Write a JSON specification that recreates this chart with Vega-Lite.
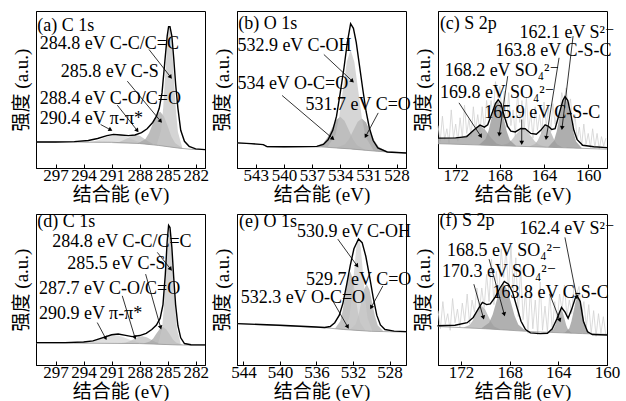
{
"$schema":"https://vega.github.io/schema/vega-lite/v6.json",
"autosize":{"type":"pad"},
"padding":{"left":11,"top":10,"right":0,"bottom":0},
"background":"white",
"columns":3,
"spacing":{"row":46,"column":32},
"bounds":"flush",
"resolve":{"scale":{"x":"independent","y":"independent","color":"independent"}},
"config":{
 "view":{"stroke":"black","strokeWidth":1},
 "axis":{"grid":false,"domainColor":"black","tickColor":"black","labelColor":"black","titleColor":"black","labelFont":"Liberation Serif, DejaVu Serif, Noto Sans CJK SC","titleFont":"Liberation Serif, DejaVu Serif, Noto Sans CJK SC","labelFontSize":17,"titleFontSize":19,"titleFontWeight":"normal","labelOverlap":false,"labelFlush":false,"labelBound":false},
 "axisX":{"tickSize":-4,"labelPadding":3,"titlePadding":2},
 "axisY":{"labels":false,"ticks":false,"titlePadding":5},
 "text":{"font":"Liberation Serif, DejaVu Serif, Noto Sans CJK SC","fontSize":18,"align":"left","baseline":"middle","color":"black"}
},
"datasets":{
"curves":[
{"p":"a","s":"e","x":299.1,"y":16.6},{"p":"a","s":"e","x":297,"y":16.6},{"p":"a","s":"e","x":295,"y":16.8},{"p":"a","s":"e","x":293.5,"y":17.5},{"p":"a","s":"e","x":292.5,"y":18.8},{"p":"a","s":"e","x":291.5,"y":20.6},{"p":"a","s":"e","x":290.8,"y":21.4},{"p":"a","s":"e","x":290,"y":21.0},{"p":"a","s":"e","x":289.2,"y":20.6},{"p":"a","s":"e","x":288.5,"y":21.0},{"p":"a","s":"e","x":287.8,"y":22.5},{"p":"a","s":"e","x":287.2,"y":25},{"p":"a","s":"e","x":286.6,"y":29},{"p":"a","s":"e","x":286.2,"y":33},{"p":"a","s":"e","x":285.9,"y":38},{"p":"a","s":"e","x":285.6,"y":48},{"p":"a","s":"e","x":285.3,"y":68},{"p":"a","s":"e","x":285.05,"y":84},{"p":"a","s":"e","x":284.9,"y":90},{"p":"a","s":"e","x":284.75,"y":90},{"p":"a","s":"e","x":284.55,"y":84},{"p":"a","s":"e","x":284.35,"y":70},{"p":"a","s":"e","x":284.14,"y":53},{"p":"a","s":"e","x":283.9,"y":38},{"p":"a","s":"e","x":283.6,"y":24},{"p":"a","s":"e","x":283.2,"y":17},{"p":"a","s":"e","x":282.7,"y":13.8},{"p":"a","s":"e","x":282.0,"y":12.2},{"p":"a","s":"e","x":281.0,"y":11.7},
{"p":"a","s":"b","x":299.1,"y":16.6},{"p":"a","s":"b","x":291,"y":16.4},{"p":"a","s":"b","x":288,"y":15.6},{"p":"a","s":"b","x":286,"y":14.4},{"p":"a","s":"b","x":284,"y":12.8},{"p":"a","s":"b","x":282.5,"y":11.9},{"p":"a","s":"b","x":281,"y":11.7},
{"p":"b","s":"e","x":545,"y":16.0},{"p":"b","s":"e","x":543.5,"y":15.5},{"p":"b","s":"e","x":542.2,"y":14.9},{"p":"b","s":"e","x":541.8,"y":13.6},{"p":"b","s":"e","x":540,"y":13.5},{"p":"b","s":"e","x":538,"y":13.6},{"p":"b","s":"e","x":536.5,"y":13.8},{"p":"b","s":"e","x":535.8,"y":15},{"p":"b","s":"e","x":535.3,"y":18},{"p":"b","s":"e","x":534.8,"y":24},{"p":"b","s":"e","x":534.4,"y":33},{"p":"b","s":"e","x":534.0,"y":48},{"p":"b","s":"e","x":533.6,"y":64},{"p":"b","s":"e","x":533.25,"y":80},{"p":"b","s":"e","x":532.9,"y":91.9},{"p":"b","s":"e","x":532.6,"y":89},{"p":"b","s":"e","x":532.3,"y":80},{"p":"b","s":"e","x":531.95,"y":65},{"p":"b","s":"e","x":531.6,"y":50},{"p":"b","s":"e","x":531.25,"y":36},{"p":"b","s":"e","x":530.9,"y":25.5},{"p":"b","s":"e","x":530.5,"y":17.5},{"p":"b","s":"e","x":530.0,"y":12.8},{"p":"b","s":"e","x":529.0,"y":10.2},{"p":"b","s":"e","x":527,"y":9.6},
{"p":"b","s":"b","x":545,"y":16.0},{"p":"b","s":"b","x":542.2,"y":14.9},{"p":"b","s":"b","x":541.8,"y":13.4},{"p":"b","s":"b","x":536,"y":13.4},{"p":"b","s":"b","x":533,"y":12.2},{"p":"b","s":"b","x":530,"y":10.6},{"p":"b","s":"b","x":527,"y":9.6},
{"p":"c","s":"e","x":173.6,"y":19.0},{"p":"c","s":"e","x":172,"y":19.2},{"p":"c","s":"e","x":171,"y":20.0},{"p":"c","s":"e","x":170.3,"y":24.5},{"p":"c","s":"e","x":169.8,"y":27.3},{"p":"c","s":"e","x":169.4,"y":26.0},{"p":"c","s":"e","x":169.1,"y":27.5},{"p":"c","s":"e","x":168.7,"y":35},{"p":"c","s":"e","x":168.4,"y":41},{"p":"c","s":"e","x":168.15,"y":43.5},{"p":"c","s":"e","x":167.9,"y":41},{"p":"c","s":"e","x":167.6,"y":33},{"p":"c","s":"e","x":167.3,"y":26.5},{"p":"c","s":"e","x":167.0,"y":23.5},{"p":"c","s":"e","x":166.6,"y":23.0},{"p":"c","s":"e","x":166.1,"y":25.2},{"p":"c","s":"e","x":165.7,"y":25.0},{"p":"c","s":"e","x":165.2,"y":22},{"p":"c","s":"e","x":164.7,"y":21.5},{"p":"c","s":"e","x":164.3,"y":24.0},{"p":"c","s":"e","x":163.9,"y":27.5},{"p":"c","s":"e","x":163.6,"y":26.5},{"p":"c","s":"e","x":163.3,"y":24.5},{"p":"c","s":"e","x":163.0,"y":25},{"p":"c","s":"e","x":162.6,"y":35},{"p":"c","s":"e","x":162.3,"y":43},{"p":"c","s":"e","x":162.1,"y":45.5},{"p":"c","s":"e","x":161.85,"y":43},{"p":"c","s":"e","x":161.6,"y":35},{"p":"c","s":"e","x":161.3,"y":24},{"p":"c","s":"e","x":161.0,"y":18},{"p":"c","s":"e","x":160.5,"y":14.5},{"p":"c","s":"e","x":159.5,"y":13.5},{"p":"c","s":"e","x":158.3,"y":13.0},
{"p":"c","s":"b","x":173.6,"y":15.5},{"p":"c","s":"b","x":158.3,"y":12.0},
{"p":"d","s":"e","x":299.1,"y":14.8},{"p":"d","s":"e","x":296,"y":14.8},{"p":"d","s":"e","x":294,"y":15.2},{"p":"d","s":"e","x":293,"y":16},{"p":"d","s":"e","x":292,"y":18},{"p":"d","s":"e","x":291,"y":20.0},{"p":"d","s":"e","x":290.3,"y":20.5},{"p":"d","s":"e","x":289.5,"y":19.6},{"p":"d","s":"e","x":288.8,"y":18.8},{"p":"d","s":"e","x":288,"y":19.5},{"p":"d","s":"e","x":287.3,"y":21},{"p":"d","s":"e","x":286.7,"y":23.5},{"p":"d","s":"e","x":286.2,"y":26.5},{"p":"d","s":"e","x":285.8,"y":31},{"p":"d","s":"e","x":285.5,"y":40},{"p":"d","s":"e","x":285.25,"y":60},{"p":"d","s":"e","x":285.05,"y":82},{"p":"d","s":"e","x":284.9,"y":92.5},{"p":"d","s":"e","x":284.75,"y":91},{"p":"d","s":"e","x":284.55,"y":78},{"p":"d","s":"e","x":284.35,"y":58},{"p":"d","s":"e","x":284.15,"y":40},{"p":"d","s":"e","x":283.9,"y":26},{"p":"d","s":"e","x":283.6,"y":18},{"p":"d","s":"e","x":283.2,"y":14.2},{"p":"d","s":"e","x":282.5,"y":13.4},{"p":"d","s":"e","x":281,"y":13.3},
{"p":"d","s":"b","x":299.1,"y":14.6},{"p":"d","s":"b","x":288,"y":14.2},{"p":"d","s":"b","x":284,"y":13.3},{"p":"d","s":"b","x":281,"y":13.0},
{"p":"e","s":"e","x":544.66,"y":27.4},{"p":"e","s":"e","x":540,"y":26.3},{"p":"e","s":"e","x":536,"y":25.2},{"p":"e","s":"e","x":535.1,"y":24.8},{"p":"e","s":"e","x":534.5,"y":25.5},{"p":"e","s":"e","x":534.0,"y":28},{"p":"e","s":"e","x":533.5,"y":33},{"p":"e","s":"e","x":533.1,"y":41},{"p":"e","s":"e","x":532.7,"y":53},{"p":"e","s":"e","x":532.3,"y":66},{"p":"e","s":"e","x":531.9,"y":77},{"p":"e","s":"e","x":531.4,"y":83.4},{"p":"e","s":"e","x":531.0,"y":81},{"p":"e","s":"e","x":530.6,"y":72},{"p":"e","s":"e","x":530.2,"y":59},{"p":"e","s":"e","x":529.8,"y":45},{"p":"e","s":"e","x":529.4,"y":33},{"p":"e","s":"e","x":529.0,"y":26.5},{"p":"e","s":"e","x":528.5,"y":23.5},{"p":"e","s":"e","x":527.5,"y":22.4},{"p":"e","s":"e","x":526.17,"y":22.1},
{"p":"e","s":"b","x":544.66,"y":27.4},{"p":"e","s":"b","x":535,"y":24.6},{"p":"e","s":"b","x":533,"y":23.5},{"p":"e","s":"b","x":530,"y":22.3},{"p":"e","s":"b","x":526.17,"y":21.8},
{"p":"f","s":"e","x":173.94,"y":26.0},{"p":"f","s":"e","x":172.5,"y":26.3},{"p":"f","s":"e","x":171.5,"y":28},{"p":"f","s":"e","x":171.0,"y":31.5},{"p":"f","s":"e","x":170.6,"y":37},{"p":"f","s":"e","x":170.25,"y":41.4},{"p":"f","s":"e","x":169.9,"y":40.0},{"p":"f","s":"e","x":169.6,"y":40.5},{"p":"f","s":"e","x":169.2,"y":45},{"p":"f","s":"e","x":168.8,"y":51},{"p":"f","s":"e","x":168.45,"y":55.3},{"p":"f","s":"e","x":168.1,"y":53.5},{"p":"f","s":"e","x":167.76,"y":48},{"p":"f","s":"e","x":167.4,"y":38},{"p":"f","s":"e","x":167.07,"y":29},{"p":"f","s":"e","x":166.7,"y":23.5},{"p":"f","s":"e","x":166.3,"y":21.3},{"p":"f","s":"e","x":165.5,"y":20.8},{"p":"f","s":"e","x":164.9,"y":21.0},{"p":"f","s":"e","x":164.5,"y":24},{"p":"f","s":"e","x":164.1,"y":31},{"p":"f","s":"e","x":163.74,"y":38.1},{"p":"f","s":"e","x":163.45,"y":35},{"p":"f","s":"e","x":163.2,"y":31.0},{"p":"f","s":"e","x":162.9,"y":37},{"p":"f","s":"e","x":162.6,"y":44.5},{"p":"f","s":"e","x":162.45,"y":45.8},{"p":"f","s":"e","x":162.2,"y":42},{"p":"f","s":"e","x":161.94,"y":29},{"p":"f","s":"e","x":161.6,"y":22},{"p":"f","s":"e","x":161.2,"y":20.2},{"p":"f","s":"e","x":160.0,"y":19.9},
{"p":"f","s":"b","x":173.94,"y":25.5},{"p":"f","s":"b","x":170,"y":24.0},{"p":"f","s":"b","x":166,"y":22.0},{"p":"f","s":"b","x":162,"y":20.8},{"p":"f","s":"b","x":160,"y":20.3}
],
"raw":[
{"p":"c","x":173.6,"y":27},{"p":"c","x":173.4,"y":17},{"p":"c","x":173.2,"y":33},{"p":"c","x":173.0,"y":18},{"p":"c","x":172.8,"y":25},{"p":"c","x":172.6,"y":16},{"p":"c","x":172.4,"y":37},{"p":"c","x":172.2,"y":19},{"p":"c","x":172.0,"y":28},{"p":"c","x":171.8,"y":17},{"p":"c","x":171.6,"y":32},{"p":"c","x":171.4,"y":19},{"p":"c","x":171.2,"y":40},{"p":"c","x":171.0,"y":22},{"p":"c","x":170.8,"y":31},{"p":"c","x":170.6,"y":20},{"p":"c","x":170.4,"y":39},{"p":"c","x":170.2,"y":24},{"p":"c","x":170.0,"y":34},{"p":"c","x":169.8,"y":23},{"p":"c","x":169.6,"y":39},{"p":"c","x":169.4,"y":24},{"p":"c","x":169.2,"y":43},{"p":"c","x":169.0,"y":31},{"p":"c","x":168.8,"y":43},{"p":"c","x":168.6,"y":33},{"p":"c","x":168.4,"y":55},{"p":"c","x":168.2,"y":45},{"p":"c","x":168.0,"y":52},{"p":"c","x":167.8,"y":34},{"p":"c","x":167.6,"y":49},{"p":"c","x":167.4,"y":26},{"p":"c","x":167.2,"y":48},{"p":"c","x":167.0,"y":27},{"p":"c","x":166.8,"y":37},{"p":"c","x":166.6,"y":20},{"p":"c","x":166.4,"y":49},{"p":"c","x":166.2,"y":29},{"p":"c","x":166.0,"y":43},{"p":"c","x":165.8,"y":23},{"p":"c","x":165.6,"y":45},{"p":"c","x":165.4,"y":24},{"p":"c","x":165.2,"y":35},{"p":"c","x":165.0,"y":19},{"p":"c","x":164.8,"y":39},{"p":"c","x":164.6,"y":24},{"p":"c","x":164.4,"y":34},{"p":"c","x":164.2,"y":22},{"p":"c","x":164.0,"y":42},{"p":"c","x":163.8,"y":27},{"p":"c","x":163.6,"y":39},{"p":"c","x":163.4,"y":23},{"p":"c","x":163.2,"y":41},{"p":"c","x":163.0,"y":28},{"p":"c","x":162.8,"y":38},{"p":"c","x":162.6,"y":32},{"p":"c","x":162.4,"y":48},{"p":"c","x":162.2,"y":42},{"p":"c","x":162.0,"y":51},{"p":"c","x":161.8,"y":38},{"p":"c","x":161.6,"y":44},{"p":"c","x":161.4,"y":24},{"p":"c","x":161.2,"y":34},{"p":"c","x":161.0,"y":18},{"p":"c","x":160.8,"y":26},{"p":"c","x":160.6,"y":14},{"p":"c","x":160.4,"y":28},{"p":"c","x":160.2,"y":15},{"p":"c","x":160.0,"y":22},{"p":"c","x":159.8,"y":13},{"p":"c","x":159.6,"y":25},{"p":"c","x":159.4,"y":13},{"p":"c","x":159.2,"y":22},{"p":"c","x":159.0,"y":12},{"p":"c","x":158.8,"y":20},{"p":"c","x":158.6,"y":14},{"p":"c","x":158.4,"y":19},
{"p":"f","x":173.9,"y":36},{"p":"f","x":173.7,"y":24},{"p":"f","x":173.5,"y":42},{"p":"f","x":173.3,"y":27},{"p":"f","x":173.1,"y":34},{"p":"f","x":172.9,"y":23},{"p":"f","x":172.7,"y":44},{"p":"f","x":172.5,"y":28},{"p":"f","x":172.3,"y":37},{"p":"f","x":172.1,"y":25},{"p":"f","x":171.9,"y":41},{"p":"f","x":171.7,"y":29},{"p":"f","x":171.5,"y":47},{"p":"f","x":171.3,"y":27},{"p":"f","x":171.1,"y":43},{"p":"f","x":170.9,"y":35},{"p":"f","x":170.7,"y":51},{"p":"f","x":170.5,"y":35},{"p":"f","x":170.3,"y":51},{"p":"f","x":170.1,"y":38},{"p":"f","x":169.9,"y":60},{"p":"f","x":169.7,"y":42},{"p":"f","x":169.5,"y":70},{"p":"f","x":169.3,"y":40},{"p":"f","x":169.1,"y":62},{"p":"f","x":168.9,"y":46},{"p":"f","x":168.7,"y":77},{"p":"f","x":168.5,"y":58},{"p":"f","x":168.3,"y":77},{"p":"f","x":168.1,"y":49},{"p":"f","x":167.9,"y":79},{"p":"f","x":167.7,"y":48},{"p":"f","x":167.5,"y":71},{"p":"f","x":167.3,"y":32},{"p":"f","x":167.1,"y":65},{"p":"f","x":166.9,"y":30},{"p":"f","x":166.7,"y":49},{"p":"f","x":166.5,"y":21},{"p":"f","x":166.3,"y":51},{"p":"f","x":166.1,"y":24},{"p":"f","x":165.9,"y":43},{"p":"f","x":165.7,"y":20},{"p":"f","x":165.5,"y":55},{"p":"f","x":165.3,"y":23},{"p":"f","x":165.1,"y":39},{"p":"f","x":164.9,"y":22},{"p":"f","x":164.7,"y":48},{"p":"f","x":164.5,"y":22},{"p":"f","x":164.3,"y":42},{"p":"f","x":164.1,"y":28},{"p":"f","x":163.9,"y":47},{"p":"f","x":163.7,"y":36},{"p":"f","x":163.5,"y":53},{"p":"f","x":163.3,"y":32},{"p":"f","x":163.1,"y":43},{"p":"f","x":162.9,"y":34},{"p":"f","x":162.7,"y":54},{"p":"f","x":162.5,"y":47},{"p":"f","x":162.3,"y":52},{"p":"f","x":162.1,"y":32},{"p":"f","x":161.9,"y":42},{"p":"f","x":161.7,"y":25},{"p":"f","x":161.5,"y":40},{"p":"f","x":161.3,"y":21},{"p":"f","x":161.1,"y":36},{"p":"f","x":160.9,"y":19},{"p":"f","x":160.7,"y":34},{"p":"f","x":160.5,"y":21},{"p":"f","x":160.3,"y":32},{"p":"f","x":160.1,"y":20}
],
"comp":[
{"p":"a","s":"k1","x":286.5,"y":14.8,"b":14.7},{"p":"a","s":"k1","x":287.8,"y":16.3,"b":15.48},{"p":"a","s":"k1","x":288.45,"y":17.4,"b":15.64},{"p":"a","s":"k1","x":289.1,"y":19.1,"b":15.7},{"p":"a","s":"k1","x":289.75,"y":20.7,"b":15.76},{"p":"a","s":"k1","x":290.4,"y":21.4,"b":15.83},{"p":"a","s":"k1","x":291.05,"y":20.8,"b":15.9},{"p":"a","s":"k1","x":291.7,"y":19.4,"b":15.95},{"p":"a","s":"k1","x":292.35,"y":17.8,"b":16.0},{"p":"a","s":"k1","x":293.0,"y":16.8,"b":16.05},{"p":"a","s":"k1","x":294.3,"y":16.2,"b":16.17},
{"p":"a","s":"k2","x":286.6,"y":15.5,"b":14.76},{"p":"a","s":"k2","x":287.05,"y":16.8,"b":15.03},{"p":"a","s":"k2","x":287.5,"y":18.6,"b":15.3},{"p":"a","s":"k2","x":287.95,"y":20.4,"b":15.57},{"p":"a","s":"k2","x":288.4,"y":21.1,"b":15.64},{"p":"a","s":"k2","x":288.85,"y":20.5,"b":15.68},{"p":"a","s":"k2","x":289.3,"y":19.0,"b":15.72},{"p":"a","s":"k2","x":289.75,"y":17.6,"b":15.76},{"p":"a","s":"k2","x":290.2,"y":16.5,"b":15.8},{"p":"a","s":"k2","x":291.1,"y":16.0,"b":15.9},
{"p":"a","s":"k3","x":283.4,"y":12.6,"b":12.44},{"p":"a","s":"k3","x":284.2,"y":16.0,"b":12.96},{"p":"a","s":"k3","x":284.6,"y":20.1,"b":13.28},{"p":"a","s":"k3","x":285.0,"y":26.7,"b":13.6},{"p":"a","s":"k3","x":285.4,"y":33.0,"b":13.92},{"p":"a","s":"k3","x":285.8,"y":35.9,"b":14.24},{"p":"a","s":"k3","x":286.2,"y":33.9,"b":14.52},{"p":"a","s":"k3","x":286.6,"y":28.1,"b":14.76},{"p":"a","s":"k3","x":287.0,"y":22.1,"b":15.0},{"p":"a","s":"k3","x":287.4,"y":18.3,"b":15.24},{"p":"a","s":"k3","x":288.2,"y":15.8,"b":15.62},
{"p":"a","s":"k4","x":283.45,"y":13.3,"b":12.47},{"p":"a","s":"k4","x":283.9,"y":23.0,"b":12.74},{"p":"a","s":"k4","x":284.125,"y":37.7,"b":12.9},{"p":"a","s":"k4","x":284.35,"y":59.6,"b":13.08},{"p":"a","s":"k4","x":284.575,"y":81,"b":13.26},{"p":"a","s":"k4","x":284.8,"y":90.1,"b":13.44},{"p":"a","s":"k4","x":285.025,"y":81.3,"b":13.62},{"p":"a","s":"k4","x":285.25,"y":60.1,"b":13.8},{"p":"a","s":"k4","x":285.475,"y":38.6,"b":13.98},{"p":"a","s":"k4","x":285.7,"y":24.1,"b":14.16},{"p":"a","s":"k4","x":286.15,"y":15.3,"b":14.52},
{"p":"b","s":"k1","x":531.3,"y":11.5,"b":11.29},{"p":"b","s":"k1","x":532.2,"y":14.5,"b":11.77},{"p":"b","s":"k1","x":532.65,"y":18.5,"b":12.0},{"p":"b","s":"k1","x":533.1,"y":24.3,"b":12.24},{"p":"b","s":"k1","x":533.55,"y":30.1,"b":12.42},{"p":"b","s":"k1","x":534.0,"y":32.6,"b":12.6},{"p":"b","s":"k1","x":534.45,"y":30.5,"b":12.78},{"p":"b","s":"k1","x":534.9,"y":25.1,"b":12.96},{"p":"b","s":"k1","x":535.35,"y":19.6,"b":13.14},{"p":"b","s":"k1","x":535.8,"y":16.0,"b":13.32},{"p":"b","s":"k1","x":536.7,"y":13.6,"b":13.4},
{"p":"b","s":"k2","x":529.0,"y":10.5,"b":10.27},{"p":"b","s":"k2","x":529.9,"y":13.3,"b":10.57},{"p":"b","s":"k2","x":530.35,"y":17.3,"b":10.79},{"p":"b","s":"k2","x":530.8,"y":23.1,"b":11.03},{"p":"b","s":"k2","x":531.25,"y":29.0,"b":11.27},{"p":"b","s":"k2","x":531.7,"y":31.5,"b":11.5},{"p":"b","s":"k2","x":532.15,"y":29.4,"b":11.74},{"p":"b","s":"k2","x":532.6,"y":24.1,"b":11.98},{"p":"b","s":"k2","x":533.05,"y":18.7,"b":12.22},{"p":"b","s":"k2","x":533.5,"y":15.1,"b":12.4},{"p":"b","s":"k2","x":534.4,"y":13.0,"b":12.76},
{"p":"b","s":"k3","x":530.5,"y":11.6,"b":10.87},{"p":"b","s":"k3","x":531.3,"y":19.8,"b":11.29},{"p":"b","s":"k3","x":531.7,"y":32.0,"b":11.5},{"p":"b","s":"k3","x":532.1,"y":49.9,"b":11.72},{"p":"b","s":"k3","x":532.5,"y":67.5,"b":11.93},{"p":"b","s":"k3","x":532.9,"y":75.2,"b":12.15},{"p":"b","s":"k3","x":533.3,"y":67.9,"b":12.32},{"p":"b","s":"k3","x":533.7,"y":50.7,"b":12.48},{"p":"b","s":"k3","x":534.1,"y":33.1,"b":12.64},{"p":"b","s":"k3","x":534.5,"y":21.3,"b":12.8},{"p":"b","s":"k3","x":535.3,"y":13.8,"b":13.12},
{"p":"c","s":"k1","x":173.6,"y":19.0,"b":15.5},{"p":"c","s":"k1","x":172.5,"y":19.1,"b":15.26},{"p":"c","s":"k1","x":171.5,"y":19.6,"b":15.03},{"p":"c","s":"k1","x":170.8,"y":21.5,"b":14.87},{"p":"c","s":"k1","x":170.3,"y":24.5,"b":14.75},{"p":"c","s":"k1","x":169.8,"y":27.0,"b":14.63},{"p":"c","s":"k1","x":169.3,"y":24.0,"b":14.52},{"p":"c","s":"k1","x":168.8,"y":19.2,"b":14.4},{"p":"c","s":"k1","x":168.3,"y":15.6,"b":14.29},{"p":"c","s":"k1","x":167.6,"y":14.2,"b":14.13},
{"p":"c","s":"k2","x":163.8,"y":13.4,"b":13.26},{"p":"c","s":"k2","x":164.5,"y":14.9,"b":13.42},{"p":"c","s":"k2","x":164.85,"y":17.2,"b":13.5},{"p":"c","s":"k2","x":165.2,"y":20.5,"b":13.58},{"p":"c","s":"k2","x":165.55,"y":23.7,"b":13.66},{"p":"c","s":"k2","x":165.9,"y":25.0,"b":13.74},{"p":"c","s":"k2","x":166.25,"y":23.8,"b":13.82},{"p":"c","s":"k2","x":166.6,"y":20.8,"b":13.9},{"p":"c","s":"k2","x":166.95,"y":17.7,"b":13.98},{"p":"c","s":"k2","x":167.3,"y":15.6,"b":14.06},{"p":"c","s":"k2","x":168.0,"y":14.3,"b":14.22},
{"p":"c","s":"k3","x":162.3,"y":13.1,"b":12.92},{"p":"c","s":"k3","x":162.8,"y":14.9,"b":13.03},{"p":"c","s":"k3","x":163.05,"y":17.5,"b":13.09},{"p":"c","s":"k3","x":163.3,"y":21.5,"b":13.15},{"p":"c","s":"k3","x":163.55,"y":25.3,"b":13.2},{"p":"c","s":"k3","x":163.8,"y":27.0,"b":13.26},{"p":"c","s":"k3","x":164.05,"y":25.4,"b":13.32},{"p":"c","s":"k3","x":164.3,"y":21.7,"b":13.37},{"p":"c","s":"k3","x":164.55,"y":17.9,"b":13.43},{"p":"c","s":"k3","x":164.8,"y":15.3,"b":13.49},{"p":"c","s":"k3","x":165.3,"y":13.8,"b":13.6},
{"p":"c","s":"k4","x":166.55,"y":14.2,"b":13.89},{"p":"c","s":"k4","x":167.1,"y":17.9,"b":14.02},{"p":"c","s":"k4","x":167.375,"y":23.4,"b":14.08},{"p":"c","s":"k4","x":167.65,"y":31.5,"b":14.14},{"p":"c","s":"k4","x":167.925,"y":39.5,"b":14.2},{"p":"c","s":"k4","x":168.2,"y":43.0,"b":14.27},{"p":"c","s":"k4","x":168.475,"y":39.6,"b":14.33},{"p":"c","s":"k4","x":168.75,"y":31.8,"b":14.39},{"p":"c","s":"k4","x":169.025,"y":23.8,"b":14.46},{"p":"c","s":"k4","x":169.3,"y":18.4,"b":14.52},{"p":"c","s":"k4","x":169.85,"y":14.9,"b":14.64},
{"p":"c","s":"k5","x":160.6,"y":12.9,"b":12.53},{"p":"c","s":"k5","x":161.1,"y":16.9,"b":12.64},{"p":"c","s":"k5","x":161.35,"y":23.1,"b":12.7},{"p":"c","s":"k5","x":161.6,"y":32.2,"b":12.76},{"p":"c","s":"k5","x":161.85,"y":41.0,"b":12.81},{"p":"c","s":"k5","x":162.1,"y":44.9,"b":12.87},{"p":"c","s":"k5","x":162.35,"y":41.1,"b":12.93},{"p":"c","s":"k5","x":162.6,"y":32.4,"b":12.99},{"p":"c","s":"k5","x":162.85,"y":23.4,"b":13.04},{"p":"c","s":"k5","x":163.1,"y":17.4,"b":13.1},{"p":"c","s":"k5","x":163.6,"y":13.6,"b":13.21},
{"p":"d","s":"k1","x":286.7,"y":14.0,"b":13.9},{"p":"d","s":"k1","x":288.1,"y":15.0,"b":14.2},{"p":"d","s":"k1","x":288.8,"y":16.1,"b":14.23},{"p":"d","s":"k1","x":289.5,"y":17.8,"b":14.25},{"p":"d","s":"k1","x":290.2,"y":19.4,"b":14.28},{"p":"d","s":"k1","x":290.9,"y":20.1,"b":14.3},{"p":"d","s":"k1","x":291.6,"y":19.4,"b":14.33},{"p":"d","s":"k1","x":292.3,"y":17.9,"b":14.35},{"p":"d","s":"k1","x":293.0,"y":16.3,"b":14.38},{"p":"d","s":"k1","x":293.7,"y":15.2,"b":14.4},{"p":"d","s":"k1","x":295.1,"y":14.5,"b":14.45},
{"p":"d","s":"k2","x":285.0,"y":13.6,"b":13.53},{"p":"d","s":"k2","x":285.9,"y":14.4,"b":13.73},{"p":"d","s":"k2","x":286.35,"y":15.4,"b":13.83},{"p":"d","s":"k2","x":286.8,"y":16.9,"b":13.93},{"p":"d","s":"k2","x":287.25,"y":18.4,"b":14.03},{"p":"d","s":"k2","x":287.7,"y":19.1,"b":14.13},{"p":"d","s":"k2","x":288.15,"y":18.6,"b":14.21},{"p":"d","s":"k2","x":288.6,"y":17.2,"b":14.22},{"p":"d","s":"k2","x":289.05,"y":15.8,"b":14.24},{"p":"d","s":"k2","x":289.5,"y":14.9,"b":14.25},{"p":"d","s":"k2","x":290.4,"y":14.3,"b":14.29},
{"p":"d","s":"k3","x":283.4,"y":13.4,"b":13.24},{"p":"d","s":"k3","x":284.1,"y":14.9,"b":13.32},{"p":"d","s":"k3","x":284.45,"y":17.1,"b":13.4},{"p":"d","s":"k3","x":284.8,"y":20.5,"b":13.48},{"p":"d","s":"k3","x":285.15,"y":23.7,"b":13.56},{"p":"d","s":"k3","x":285.5,"y":25.1,"b":13.64},{"p":"d","s":"k3","x":285.85,"y":23.8,"b":13.72},{"p":"d","s":"k3","x":286.2,"y":20.8,"b":13.8},{"p":"d","s":"k3","x":286.55,"y":17.6,"b":13.87},{"p":"d","s":"k3","x":286.9,"y":15.5,"b":13.95},{"p":"d","s":"k3","x":287.6,"y":14.2,"b":14.1},
{"p":"d","s":"k4","x":283.6,"y":14.1,"b":13.26},{"p":"d","s":"k4","x":284.0,"y":23.7,"b":13.3},{"p":"d","s":"k4","x":284.2,"y":38.2,"b":13.35},{"p":"d","s":"k4","x":284.4,"y":59.8,"b":13.39},{"p":"d","s":"k4","x":284.6,"y":80.9,"b":13.44},{"p":"d","s":"k4","x":284.8,"y":90.0,"b":13.48},{"p":"d","s":"k4","x":285.0,"y":81.0,"b":13.53},{"p":"d","s":"k4","x":285.2,"y":60.0,"b":13.57},{"p":"d","s":"k4","x":285.4,"y":38.4,"b":13.62},{"p":"d","s":"k4","x":285.6,"y":24.1,"b":13.66},{"p":"d","s":"k4","x":286.0,"y":14.6,"b":13.75},
{"p":"e","s":"k1","x":530.65,"y":23.0,"b":22.56},{"p":"e","s":"k1","x":531.2,"y":28.0,"b":22.78},{"p":"e","s":"k1","x":531.475,"y":35.4,"b":22.9},{"p":"e","s":"k1","x":531.75,"y":46.4,"b":23.0},{"p":"e","s":"k1","x":532.025,"y":57.1,"b":23.1},{"p":"e","s":"k1","x":532.3,"y":61.7,"b":23.2},{"p":"e","s":"k1","x":532.575,"y":57.3,"b":23.3},{"p":"e","s":"k1","x":532.85,"y":46.8,"b":23.4},{"p":"e","s":"k1","x":533.125,"y":36.1,"b":23.57},{"p":"e","s":"k1","x":533.4,"y":28.9,"b":23.72},{"p":"e","s":"k1","x":533.95,"y":24.4,"b":24.0},
{"p":"e","s":"k2","x":528.7,"y":22.5,"b":22.13},{"p":"e","s":"k2","x":529.3,"y":26.4,"b":22.21},{"p":"e","s":"k2","x":529.6,"y":32.4,"b":22.25},{"p":"e","s":"k2","x":529.9,"y":41.1,"b":22.29},{"p":"e","s":"k2","x":530.2,"y":49.8,"b":22.38},{"p":"e","s":"k2","x":530.5,"y":53.5,"b":22.5},{"p":"e","s":"k2","x":530.8,"y":50.0,"b":22.62},{"p":"e","s":"k2","x":531.1,"y":41.5,"b":22.74},{"p":"e","s":"k2","x":531.4,"y":33.0,"b":22.86},{"p":"e","s":"k2","x":531.7,"y":27.2,"b":22.98},{"p":"e","s":"k2","x":532.3,"y":23.6,"b":23.22},
{"p":"e","s":"k3","x":529.9,"y":23.0,"b":22.29},{"p":"e","s":"k3","x":530.4,"y":30.9,"b":22.46},{"p":"e","s":"k3","x":530.65,"y":42.7,"b":22.56},{"p":"e","s":"k3","x":530.9,"y":60.3,"b":22.66},{"p":"e","s":"k3","x":531.15,"y":77.5,"b":22.76},{"p":"e","s":"k3","x":531.4,"y":84.9,"b":22.86},{"p":"e","s":"k3","x":531.65,"y":77.7,"b":22.96},{"p":"e","s":"k3","x":531.9,"y":60.7,"b":23.06},{"p":"e","s":"k3","x":532.15,"y":43.3,"b":23.16},{"p":"e","s":"k3","x":532.4,"y":31.7,"b":23.26},{"p":"e","s":"k3","x":532.9,"y":24.2,"b":23.46},
{"p":"f","s":"k1","x":168.8,"y":23.6,"b":23.4},{"p":"f","s":"k1","x":169.3,"y":25.7,"b":23.65},{"p":"f","s":"k1","x":169.55,"y":28.7,"b":23.78},{"p":"f","s":"k1","x":169.8,"y":33.0,"b":23.9},{"p":"f","s":"k1","x":170.05,"y":37.2,"b":24.02},{"p":"f","s":"k1","x":170.3,"y":39.1,"b":24.11},{"p":"f","s":"k1","x":170.55,"y":37.4,"b":24.21},{"p":"f","s":"k1","x":170.8,"y":33.4,"b":24.3},{"p":"f","s":"k1","x":171.05,"y":29.3,"b":24.4},{"p":"f","s":"k1","x":171.3,"y":26.5,"b":24.5},{"p":"f","s":"k1","x":171.8,"y":24.9,"b":24.68},
{"p":"f","s":"k2","x":166.7,"y":22.7,"b":22.35},{"p":"f","s":"k2","x":167.3,"y":26.8,"b":22.65},{"p":"f","s":"k2","x":167.6,"y":32.6,"b":22.8},{"p":"f","s":"k2","x":167.9,"y":41.4,"b":22.95},{"p":"f","s":"k2","x":168.2,"y":49.8,"b":23.1},{"p":"f","s":"k2","x":168.5,"y":53.6,"b":23.25},{"p":"f","s":"k2","x":168.8,"y":50.1,"b":23.4},{"p":"f","s":"k2","x":169.1,"y":42.0,"b":23.55},{"p":"f","s":"k2","x":169.4,"y":33.5,"b":23.7},{"p":"f","s":"k2","x":169.7,"y":28.0,"b":23.85},{"p":"f","s":"k2","x":170.3,"y":24.5,"b":24.11},
{"p":"f","s":"k3","x":162.9,"y":21.2,"b":21.07},{"p":"f","s":"k3","x":163.2,"y":23.3,"b":21.16},{"p":"f","s":"k3","x":163.35,"y":26.3,"b":21.2},{"p":"f","s":"k3","x":163.5,"y":30.8,"b":21.25},{"p":"f","s":"k3","x":163.65,"y":35.2,"b":21.3},{"p":"f","s":"k3","x":163.8,"y":37.0,"b":21.34},{"p":"f","s":"k3","x":163.95,"y":35.3,"b":21.39},{"p":"f","s":"k3","x":164.1,"y":30.9,"b":21.43},{"p":"f","s":"k3","x":164.25,"y":26.6,"b":21.48},{"p":"f","s":"k3","x":164.4,"y":23.6,"b":21.52},{"p":"f","s":"k3","x":164.7,"y":21.8,"b":21.61},
{"p":"f","s":"k4","x":161.35,"y":20.9,"b":20.64},{"p":"f","s":"k4","x":161.7,"y":23.9,"b":20.73},{"p":"f","s":"k4","x":161.875,"y":28.6,"b":20.77},{"p":"f","s":"k4","x":162.05,"y":35.4,"b":20.82},{"p":"f","s":"k4","x":162.225,"y":42.1,"b":20.87},{"p":"f","s":"k4","x":162.4,"y":44.9,"b":20.92},{"p":"f","s":"k4","x":162.575,"y":42.2,"b":20.97},{"p":"f","s":"k4","x":162.75,"y":35.6,"b":21.03},{"p":"f","s":"k4","x":162.925,"y":28.9,"b":21.08},{"p":"f","s":"k4","x":163.1,"y":24.3,"b":21.13},{"p":"f","s":"k4","x":163.45,"y":21.5,"b":21.24}
],
"ann":[
{"p":"a","t":"(a) C 1s","x":298.96,"y":90.4},{"p":"a","t":"284.8 eV C-C/C=C","x":298.71,"y":78.7},{"p":"a","t":"285.8 eV C-S","x":296.46,"y":61.1},{"p":"a","t":"288.4 eV C-O/C=O","x":298.71,"y":44.0},{"p":"a","t":"290.4 eV π-π*","x":298.71,"y":30.9},
{"p":"b","t":"(b) O 1s","x":544.86,"y":91.5},{"p":"b","t":"532.9 eV C-OH","x":544.96,"y":77.7},{"p":"b","t":"534 eV O-C=O","x":544.96,"y":53.6},{"p":"b","t":"531.7 eV C=O","x":537.7,"y":40.4},
{"p":"c","t":"(c) S 2p","x":173.43,"y":91.5},{"p":"c","t":"162.1 eV S²⁻","x":166.23,"y":86.2},{"p":"c","t":"163.8 eV C-S-C","x":168.42,"y":74.5},{"p":"c","t":"168.2 eV SO₄²⁻","x":173.0,"y":61.7},{"p":"c","t":"169.8 eV SO₄²⁻","x":173.43,"y":47.9},{"p":"c","t":"165.9 eV C-S-C","x":169.42,"y":35.1},
{"p":"d","t":"(d) C 1s","x":298.96,"y":94.5},{"p":"d","t":"284.8 eV C-C/C=C","x":297.36,"y":81.2},{"p":"d","t":"285.5 eV C-S","x":295.75,"y":66.8},{"p":"d","t":"287.7 eV C-O/C=O","x":298.79,"y":50.2},{"p":"d","t":"290.9 eV π-π*","x":298.79,"y":33.6},
{"p":"e","t":"(e) O 1s","x":544.48,"y":94.5},{"p":"e","t":"530.9 eV C-OH","x":538.14,"y":87.8},{"p":"e","t":"529.7 eV C=O","x":537.15,"y":56.4},{"p":"e","t":"532.3 eV O-C=O","x":544.29,"y":44.7},
{"p":"f","t":"(f) S 2p","x":173.77,"y":95.6},{"p":"f","t":"162.4 eV S²⁻","x":167.21,"y":90.0},{"p":"f","t":"168.5 eV SO₄²⁻","x":173.16,"y":75.7},{"p":"f","t":"170.3 eV SO₄²⁻","x":173.58,"y":61.3},{"p":"f","t":"163.8 eV C-S-C","x":169.42,"y":48.0}
],
"arr":[
{"p":"a","x":287.0,"y":75.5,"x2":284.68,"y2":57.9,"ang":-38},{"p":"a","x":289.32,"y":55.3,"x2":285.75,"y2":29.8,"ang":-40},{"p":"a","x":290.39,"y":40.0,"x2":288.25,"y2":23.8,"ang":-38},{"p":"a","x":292.18,"y":27.7,"x2":291.11,"y2":24.3,"ang":-62},
{"p":"b","x":535.75,"y":72.3,"x2":532.71,"y2":55.3,"ang":-47},{"p":"b","x":540.2,"y":46.2,"x2":534.79,"y2":18.7,"ang":-50},{"p":"b","x":529.96,"y":35.1,"x2":531.29,"y2":20.2,"ang":28},
{"p":"c","x":171.7,"y":41.5,"x2":169.72,"y2":20.2,"ang":-33},{"p":"c","x":167.29,"y":58.5,"x2":168.05,"y2":21.3,"ang":8},{"p":"c","x":166.02,"y":30.9,"x2":166.02,"y2":16.0,"ang":0},{"p":"c","x":162.64,"y":70.2,"x2":163.8,"y2":19.1,"ang":9},{"p":"c","x":161.37,"y":84.0,"x2":162.37,"y2":25.5,"ang":7},
{"p":"d","x":286.11,"y":74.6,"x2":284.68,"y2":63.5,"ang":-39},{"p":"d","x":287.36,"y":60.2,"x2":285.75,"y2":24.8,"ang":-16},{"p":"d","x":289.86,"y":45.8,"x2":288.5,"y2":18.1,"ang":-17},{"p":"d","x":292.54,"y":28.1,"x2":291.64,"y2":17.7,"ang":-28},
{"p":"e","x":533.67,"y":83.4,"x2":531.55,"y2":65.7,"ang":-36},{"p":"e","x":528.73,"y":52.4,"x2":530.01,"y2":38.1,"ang":28},{"p":"e","x":534.22,"y":42.5,"x2":532.58,"y2":25.2,"ang":-30},
{"p":"f","x":170.95,"y":53.5,"x2":170.17,"y2":31.4,"ang":-16},{"p":"f","x":169.7,"y":70.1,"x2":168.45,"y2":33.6,"ang":-15},{"p":"f","x":164.71,"y":46.9,"x2":163.88,"y2":29.6,"ang":-21},{"p":"f","x":163.46,"y":84.5,"x2":162.49,"y2":44.7,"ang":-11}
]
},
"concat":[
{"width":169,"height":157,
 "encoding":{"x":{"field":"x","type":"quantitative","scale":{"domain":[281,299.1],"reverse":true,"nice":false,"zero":false},"axis":{"values":[297,294,291,288,285,282],"title":"结合能 (eV)"}},
  "y":{"field":"y","type":"quantitative","stack":null,"scale":{"domain":[0,100],"nice":false,"zero":false},"axis":{"title":"强度 (a.u.)"}}},
 "layer":[
  {"data":{"name":"comp"},"transform":[{"filter":"datum.p=='a'"}],"mark":{"type":"area","opacity":0.75},"encoding":{"y2":{"field":"b"},"color":{"field":"s","type":"nominal","scale":{"domain":["k1","k2","k3","k4"],"range":["#d4d4d4","#bdbdbd","#a6a6a6","#c6c6c6"]},"legend":null}}},
  {"data":{"name":"curves"},"transform":[{"filter":"datum.p=='a' && datum.s=='b'"}],"mark":{"type":"line","color":"#9a9a9a","strokeWidth":0.8}},
  {"data":{"name":"curves"},"transform":[{"filter":"datum.p=='a' && datum.s=='e'"}],"mark":{"type":"line","color":"black","strokeWidth":1.4}},
  {"data":{"name":"arr"},"transform":[{"filter":"datum.p=='a'"}],"mark":{"type":"rule","color":"black","strokeWidth":0.8},"encoding":{"x2":{"field":"x2"},"y2":{"field":"y2"}}},
  {"data":{"name":"arr"},"transform":[{"filter":"datum.p=='a'"}],"mark":{"type":"point","shape":"triangle-down","filled":true,"color":"black","size":22,"opacity":1},"encoding":{"x":{"field":"x2","type":"quantitative","scale":{"domain":[281,299.1],"reverse":true,"nice":false,"zero":false},"axis":{"values":[297,294,291,288,285,282],"title":"结合能 (eV)"}},"y":{"field":"y2","type":"quantitative","scale":{"domain":[0,100],"nice":false,"zero":false},"axis":{"title":"强度 (a.u.)"}},"angle":{"field":"ang","type":"quantitative","scale":null}}},
  {"data":{"name":"ann"},"transform":[{"filter":"datum.p=='a'"}],"mark":{"type":"text"},"encoding":{"text":{"field":"t"}}}
 ]},
{"width":169,"height":157,
 "encoding":{"x":{"field":"x","type":"quantitative","scale":{"domain":[527,545],"reverse":true,"nice":false,"zero":false},"axis":{"values":[543,540,537,534,531,528],"title":"结合能 (eV)"}},
  "y":{"field":"y","type":"quantitative","stack":null,"scale":{"domain":[0,100],"nice":false,"zero":false},"axis":{"title":"强度 (a.u.)"}}},
 "layer":[
  {"data":{"name":"comp"},"transform":[{"filter":"datum.p=='b'"}],"mark":{"type":"area","opacity":0.7},"encoding":{"y2":{"field":"b"},"color":{"field":"s","type":"nominal","scale":{"domain":["k1","k2","k3"],"range":["#8f8f8f","#8f8f8f","#c4c4c4"]},"legend":null}}},
  {"data":{"name":"curves"},"transform":[{"filter":"datum.p=='b' && datum.s=='b'"}],"mark":{"type":"line","color":"#9a9a9a","strokeWidth":0.8}},
  {"data":{"name":"curves"},"transform":[{"filter":"datum.p=='b' && datum.s=='e'"}],"mark":{"type":"line","color":"black","strokeWidth":1.4}},
  {"data":{"name":"arr"},"transform":[{"filter":"datum.p=='b'"}],"mark":{"type":"rule","color":"black","strokeWidth":0.8},"encoding":{"x2":{"field":"x2"},"y2":{"field":"y2"}}},
  {"data":{"name":"arr"},"transform":[{"filter":"datum.p=='b'"}],"mark":{"type":"point","shape":"triangle-down","filled":true,"color":"black","size":22,"opacity":1},"encoding":{"x":{"field":"x2","type":"quantitative","scale":{"domain":[527,545],"reverse":true,"nice":false,"zero":false},"axis":{"values":[543,540,537,534,531,528],"title":"结合能 (eV)"}},"y":{"field":"y2","type":"quantitative","scale":{"domain":[0,100],"nice":false,"zero":false},"axis":{"title":"强度 (a.u.)"}},"angle":{"field":"ang","type":"quantitative","scale":null}}},
  {"data":{"name":"ann"},"transform":[{"filter":"datum.p=='b'"}],"mark":{"type":"text"},"encoding":{"text":{"field":"t"}}}
 ]},
{"width":169,"height":157,
 "encoding":{"x":{"field":"x","type":"quantitative","scale":{"domain":[158.3,173.6],"reverse":true,"nice":false,"zero":false},"axis":{"values":[172,168,164,160],"title":"结合能 (eV)"}},
  "y":{"field":"y","type":"quantitative","stack":null,"scale":{"domain":[0,100],"nice":false,"zero":false},"axis":{"title":"强度 (a.u.)"}}},
 "layer":[
  {"data":{"name":"raw"},"transform":[{"filter":"datum.p=='c'"}],"mark":{"type":"line","color":"#d2d2d2","strokeWidth":0.8}},
  {"data":{"name":"comp"},"transform":[{"filter":"datum.p=='c'"}],"mark":{"type":"area","opacity":0.8},"encoding":{"y2":{"field":"b"},"color":{"field":"s","type":"nominal","scale":{"domain":["k1","k2","k3","k4","k5"],"range":["#a4a4a4","#bfbfbf","#b4b4b4","#9a9a9a","#9a9a9a"]},"legend":null}}},
  {"data":{"name":"curves"},"transform":[{"filter":"datum.p=='c' && datum.s=='b'"}],"mark":{"type":"line","color":"#9a9a9a","strokeWidth":0.8}},
  {"data":{"name":"curves"},"transform":[{"filter":"datum.p=='c' && datum.s=='e'"}],"mark":{"type":"line","color":"black","strokeWidth":1.4}},
  {"data":{"name":"arr"},"transform":[{"filter":"datum.p=='c'"}],"mark":{"type":"rule","color":"black","strokeWidth":0.8},"encoding":{"x2":{"field":"x2"},"y2":{"field":"y2"}}},
  {"data":{"name":"arr"},"transform":[{"filter":"datum.p=='c'"}],"mark":{"type":"point","shape":"triangle-down","filled":true,"color":"black","size":22,"opacity":1},"encoding":{"x":{"field":"x2","type":"quantitative","scale":{"domain":[158.3,173.6],"reverse":true,"nice":false,"zero":false},"axis":{"values":[172,168,164,160],"title":"结合能 (eV)"}},"y":{"field":"y2","type":"quantitative","scale":{"domain":[0,100],"nice":false,"zero":false},"axis":{"title":"强度 (a.u.)"}},"angle":{"field":"ang","type":"quantitative","scale":null}}},
  {"data":{"name":"ann"},"transform":[{"filter":"datum.p=='c'"}],"mark":{"type":"text"},"encoding":{"text":{"field":"t"}}}
 ]},
{"width":169,"height":151,
 "encoding":{"x":{"field":"x","type":"quantitative","scale":{"domain":[281,299.1],"reverse":true,"nice":false,"zero":false},"axis":{"values":[297,294,291,288,285,282],"title":"结合能 (eV)"}},
  "y":{"field":"y","type":"quantitative","stack":null,"scale":{"domain":[0,100],"nice":false,"zero":false},"axis":{"title":"强度 (a.u.)"}}},
 "layer":[
  {"data":{"name":"comp"},"transform":[{"filter":"datum.p=='d'"}],"mark":{"type":"area","opacity":0.75},"encoding":{"y2":{"field":"b"},"color":{"field":"s","type":"nominal","scale":{"domain":["k1","k2","k3","k4"],"range":["#d4d4d4","#bdbdbd","#a6a6a6","#c6c6c6"]},"legend":null}}},
  {"data":{"name":"curves"},"transform":[{"filter":"datum.p=='d' && datum.s=='b'"}],"mark":{"type":"line","color":"#9a9a9a","strokeWidth":0.8}},
  {"data":{"name":"curves"},"transform":[{"filter":"datum.p=='d' && datum.s=='e'"}],"mark":{"type":"line","color":"black","strokeWidth":1.4}},
  {"data":{"name":"arr"},"transform":[{"filter":"datum.p=='d'"}],"mark":{"type":"rule","color":"black","strokeWidth":0.8},"encoding":{"x2":{"field":"x2"},"y2":{"field":"y2"}}},
  {"data":{"name":"arr"},"transform":[{"filter":"datum.p=='d'"}],"mark":{"type":"point","shape":"triangle-down","filled":true,"color":"black","size":22,"opacity":1},"encoding":{"x":{"field":"x2","type":"quantitative","scale":{"domain":[281,299.1],"reverse":true,"nice":false,"zero":false},"axis":{"values":[297,294,291,288,285,282],"title":"结合能 (eV)"}},"y":{"field":"y2","type":"quantitative","scale":{"domain":[0,100],"nice":false,"zero":false},"axis":{"title":"强度 (a.u.)"}},"angle":{"field":"ang","type":"quantitative","scale":null}}},
  {"data":{"name":"ann"},"transform":[{"filter":"datum.p=='d'"}],"mark":{"type":"text"},"encoding":{"text":{"field":"t"}}}
 ]},
{"width":169,"height":151,
 "encoding":{"x":{"field":"x","type":"quantitative","scale":{"domain":[526.2,544.7],"reverse":true,"nice":false,"zero":false},"axis":{"values":[544,540,536,532,528],"title":"结合能 (eV)"}},
  "y":{"field":"y","type":"quantitative","stack":null,"scale":{"domain":[0,100],"nice":false,"zero":false},"axis":{"title":"强度 (a.u.)"}}},
 "layer":[
  {"data":{"name":"comp"},"transform":[{"filter":"datum.p=='e'"}],"mark":{"type":"area","opacity":0.7},"encoding":{"y2":{"field":"b"},"color":{"field":"s","type":"nominal","scale":{"domain":["k1","k2","k3"],"range":["#a8a8a8","#a8a8a8","#cccccc"]},"legend":null}}},
  {"data":{"name":"curves"},"transform":[{"filter":"datum.p=='e' && datum.s=='b'"}],"mark":{"type":"line","color":"#9a9a9a","strokeWidth":0.8}},
  {"data":{"name":"curves"},"transform":[{"filter":"datum.p=='e' && datum.s=='e'"}],"mark":{"type":"line","color":"black","strokeWidth":1.4}},
  {"data":{"name":"arr"},"transform":[{"filter":"datum.p=='e'"}],"mark":{"type":"rule","color":"black","strokeWidth":0.8},"encoding":{"x2":{"field":"x2"},"y2":{"field":"y2"}}},
  {"data":{"name":"arr"},"transform":[{"filter":"datum.p=='e'"}],"mark":{"type":"point","shape":"triangle-down","filled":true,"color":"black","size":22,"opacity":1},"encoding":{"x":{"field":"x2","type":"quantitative","scale":{"domain":[526.2,544.7],"reverse":true,"nice":false,"zero":false},"axis":{"values":[544,540,536,532,528],"title":"结合能 (eV)"}},"y":{"field":"y2","type":"quantitative","scale":{"domain":[0,100],"nice":false,"zero":false},"axis":{"title":"强度 (a.u.)"}},"angle":{"field":"ang","type":"quantitative","scale":null}}},
  {"data":{"name":"ann"},"transform":[{"filter":"datum.p=='e'"}],"mark":{"type":"text"},"encoding":{"text":{"field":"t"}}}
 ]},
{"width":169,"height":151,
 "encoding":{"x":{"field":"x","type":"quantitative","scale":{"domain":[160,173.9],"reverse":true,"nice":false,"zero":false},"axis":{"values":[172,168,164,160],"title":"结合能 (eV)"}},
  "y":{"field":"y","type":"quantitative","stack":null,"scale":{"domain":[0,100],"nice":false,"zero":false},"axis":{"title":"强度 (a.u.)"}}},
 "layer":[
  {"data":{"name":"raw"},"transform":[{"filter":"datum.p=='f'"}],"mark":{"type":"line","color":"#d2d2d2","strokeWidth":0.8}},
  {"data":{"name":"comp"},"transform":[{"filter":"datum.p=='f'"}],"mark":{"type":"area","opacity":0.8},"encoding":{"y2":{"field":"b"},"color":{"field":"s","type":"nominal","scale":{"domain":["k1","k2","k3","k4"],"range":["#b4b4b4","#9c9c9c","#a4a4a4","#9c9c9c"]},"legend":null}}},
  {"data":{"name":"curves"},"transform":[{"filter":"datum.p=='f' && datum.s=='b'"}],"mark":{"type":"line","color":"#9a9a9a","strokeWidth":0.8}},
  {"data":{"name":"curves"},"transform":[{"filter":"datum.p=='f' && datum.s=='e'"}],"mark":{"type":"line","color":"black","strokeWidth":1.4}},
  {"data":{"name":"arr"},"transform":[{"filter":"datum.p=='f'"}],"mark":{"type":"rule","color":"black","strokeWidth":0.8},"encoding":{"x2":{"field":"x2"},"y2":{"field":"y2"}}},
  {"data":{"name":"arr"},"transform":[{"filter":"datum.p=='f'"}],"mark":{"type":"point","shape":"triangle-down","filled":true,"color":"black","size":22,"opacity":1},"encoding":{"x":{"field":"x2","type":"quantitative","scale":{"domain":[160,173.9],"reverse":true,"nice":false,"zero":false},"axis":{"values":[172,168,164,160],"title":"结合能 (eV)"}},"y":{"field":"y2","type":"quantitative","scale":{"domain":[0,100],"nice":false,"zero":false},"axis":{"title":"强度 (a.u.)"}},"angle":{"field":"ang","type":"quantitative","scale":null}}},
  {"data":{"name":"ann"},"transform":[{"filter":"datum.p=='f'"}],"mark":{"type":"text"},"encoding":{"text":{"field":"t"}}}
 ]}
]
}
